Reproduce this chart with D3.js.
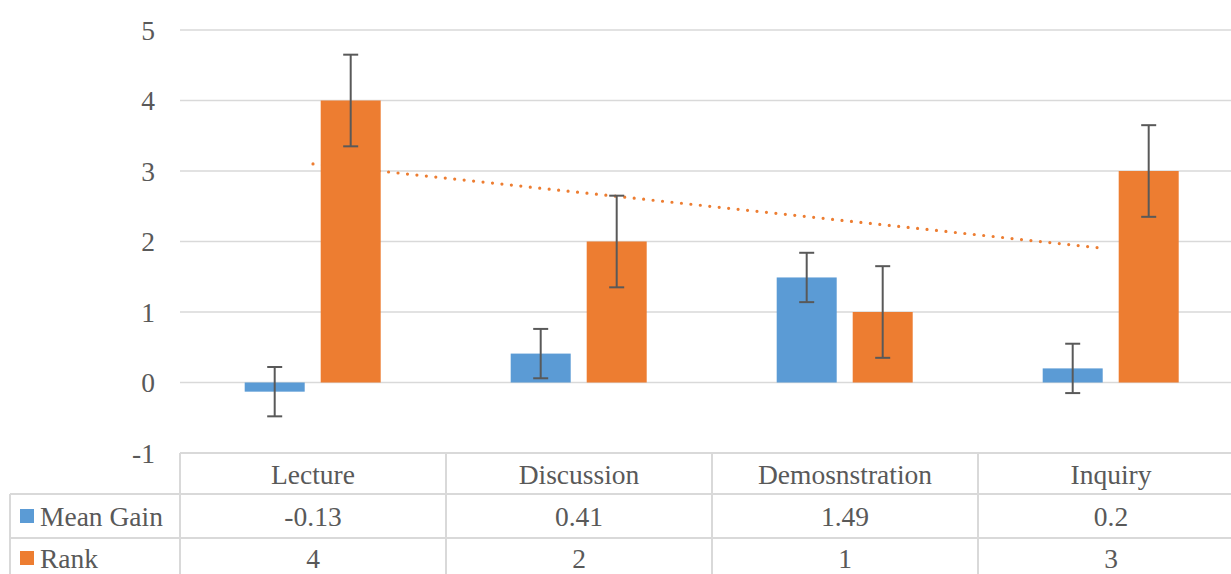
<!DOCTYPE html>
<html><head><meta charset="utf-8">
<script src="https://cdn.jsdelivr.net/npm/d3@7"></script>
<style>body{margin:0;background:#fff;}svg{display:block;}
svg text{font-family:"Liberation Serif","Times New Roman",Tinos,"DejaVu Serif",serif;}</style>
</head><body>
<svg id="chart" width="1231" height="574"></svg>
<script>
const categories = ["Lecture", "Discussion", "Demosnstration", "Inquiry"];
const seriesNames = ["Mean Gain", "Rank"];
const meanGain = [-0.13, 0.41, 1.49, 0.2];
const rank = [4, 2, 1, 3];
const meanGainLabels = ["-0.13", "0.41", "1.49", "0.2"];
const rankLabels = ["4", "2", "1", "3"];
const meanGainErr = [0.35, 0.35, 0.35, 0.35];
const rankErr = [0.65, 0.65, 0.65, 0.65];
const yTicks = [-1, 0, 1, 2, 3, 4, 5];
const colors = ["#5B9BD5", "#ED7D31"];

const svg = d3.select("#chart");
const textColor = "#595959", gridColor = "#d9d9d9";
const fs = 27.5;

const x = d3.scaleBand().domain(categories).range([180, 1244]).paddingInner(0).paddingOuter(0);
const x1 = d3.scaleBand().domain(seriesNames).range([64.7, 200.7]).paddingInner(16/76).paddingOuter(0);
const y = d3.scaleLinear().domain([-1, 5]).range([453, 30]);

// gridlines
svg.append("g").selectAll("line").data(yTicks.filter(t => t > -1)).join("line")
  .attr("x1", 180).attr("x2", 1244).attr("y1", d => y(d)).attr("y2", d => y(d))
  .attr("stroke", gridColor).attr("stroke-width", 1.5);

// y tick labels
svg.append("g").selectAll("text").data(yTicks).join("text")
  .attr("x", 155).attr("y", d => y(d)).attr("text-anchor", "end").attr("dy", "0.35em")
  .attr("font-size", fs).attr("fill", textColor)
  .text(d => d);

const seriesData = [
  {name: seriesNames[0], values: meanGain, err: meanGainErr, color: colors[0]},
  {name: seriesNames[1], values: rank, err: rankErr, color: colors[1]}
];

// linear trendline on Rank (drawn behind bars)
const xs = rank.map((d, i) => i + 1);
const mx = d3.mean(xs), my = d3.mean(rank);
const slope = d3.sum(xs.map((xi, i) => (xi - mx) * (rank[i] - my))) / d3.sum(xs.map(xi => (xi - mx) ** 2));
const intercept = my - slope * mx;
const trendPts = [0, categories.length - 1].map(i => ({c: categories[i], v: intercept + slope * (i + 1)}));
svg.append("line")
  .attr("x1", x(trendPts[0].c) + x.bandwidth() / 2).attr("y1", y(trendPts[0].v))
  .attr("x2", x(trendPts[1].c) + x.bandwidth() / 2 - 5).attr("y2", y(trendPts[1].v))
  .attr("stroke", colors[1]).attr("stroke-width", 3.2).attr("stroke-linecap", "round")
  .attr("stroke-dasharray", "0 9.5");

// bars
seriesData.forEach(s => {
  svg.append("g").selectAll("rect").data(categories).join("rect")
    .attr("x", (c) => x(c) + x1(s.name))
    .attr("width", x1.bandwidth())
    .attr("y", (c, i) => Math.min(y(s.values[i]), y(0)))
    .attr("height", (c, i) => Math.abs(y(s.values[i]) - y(0)))
    .attr("fill", s.color);
});

// error bars
seriesData.forEach(s => {
  const g = svg.append("g").attr("stroke", "#595959").attr("stroke-width", 2);
  categories.forEach((c, i) => {
    const cx = x(c) + x1(s.name) + x1.bandwidth() / 2;
    const hi = y(s.values[i] + s.err[i]), lo = y(s.values[i] - s.err[i]);
    g.append("line").attr("x1", cx).attr("x2", cx).attr("y1", hi).attr("y2", lo);
    g.append("line").attr("x1", cx - 7.5).attr("x2", cx + 7.5).attr("y1", hi).attr("y2", hi);
    g.append("line").attr("x1", cx - 7.5).attr("x2", cx + 7.5).attr("y1", lo).attr("y2", lo);
  });
});

// data table
const rowTop = [453, 494, 538];
const tg = svg.append("g").attr("stroke", gridColor).attr("stroke-width", 2);
tg.append("line").attr("x1", 180).attr("x2", 1244).attr("y1", rowTop[0]).attr("y2", rowTop[0]);
tg.append("line").attr("x1", 10).attr("x2", 1244).attr("y1", rowTop[1]).attr("y2", rowTop[1]);
tg.append("line").attr("x1", 10).attr("x2", 1244).attr("y1", rowTop[2]).attr("y2", rowTop[2]);
tg.append("line").attr("x1", 10).attr("x2", 10).attr("y1", rowTop[1]).attr("y2", 580);
categories.forEach(c => {
  tg.append("line").attr("x1", x(c)).attr("x2", x(c)).attr("y1", rowTop[0]).attr("y2", 580);
});
tg.append("line").attr("x1", 1244).attr("x2", 1244).attr("y1", rowTop[0]).attr("y2", 580);

const rowCenters = [474, 516, 558];
svg.append("g").selectAll("text").data(categories).join("text")
  .attr("x", c => x(c) + x.bandwidth() / 2).attr("y", rowCenters[0]).attr("dy", "0.35em")
  .attr("text-anchor", "middle").attr("font-size", fs).attr("fill", textColor)
  .text(c => c);
[meanGainLabels, rankLabels].forEach((labels, r) => {
  svg.append("g").selectAll("text").data(categories).join("text")
    .attr("x", c => x(c) + x.bandwidth() / 2).attr("y", rowCenters[r + 1]).attr("dy", "0.35em")
    .attr("text-anchor", "middle").attr("font-size", fs).attr("fill", textColor)
    .text((c, i) => labels[i]);
  svg.append("rect").attr("x", 20).attr("y", rowCenters[r + 1] - 7).attr("width", 14).attr("height", 14)
    .attr("fill", colors[r]);
  svg.append("text").attr("x", 40).attr("y", rowCenters[r + 1]).attr("dy", "0.35em")
    .attr("font-size", fs).attr("fill", textColor)
    .text(seriesNames[r]);
});
</script>
</body></html>
